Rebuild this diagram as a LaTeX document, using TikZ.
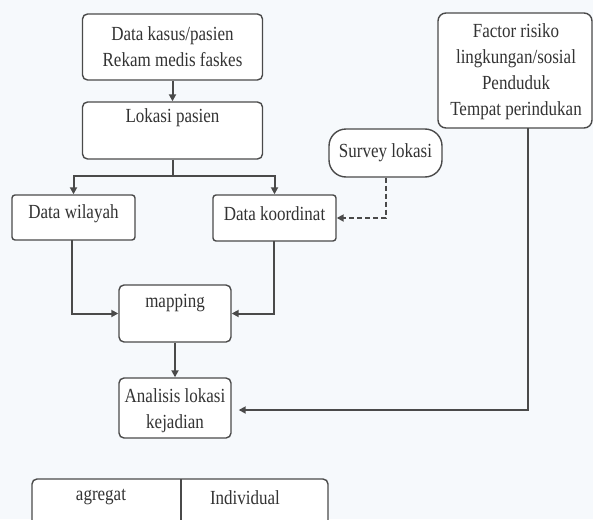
\documentclass[tikz,border=0pt]{standalone}
\usepackage{fontspec}
\setmainfont[FakeStretch=0.85]{Liberation Serif}
\usetikzlibrary{arrows.meta}
\definecolor{ln}{HTML}{4A4A4A}
\definecolor{tx}{HTML}{333333}
\definecolor{bg}{HTML}{F6F9FC}
\tikzset{
  box/.style={draw=ln, line width=1.4pt, rounded corners=5pt, fill=white, inner sep=0pt},
  lbl/.style={text=tx, align=center, inner sep=0pt, font=\fontsize{20}{26}\selectfont},
  conn/.style={draw=ln, line width=2pt, -{Triangle[length=7pt,width=7pt]}},
  dconn/.style={draw=ln, line width=2pt, dash pattern=on 5pt off 3pt, -{Triangle[length=7pt,width=7pt]}}
}
\begin{document}
\begin{tikzpicture}[x=1pt,y=-1pt]
\fill[bg] (0,0) rectangle (593,519);
\useasboundingbox (0,0) rectangle (593,519);
\clip (0,0) rectangle (593,519);
% boxes
\node[box, minimum width=180pt, minimum height=66pt] (kasus) at (172.5,47) {};
\node[lbl] (kasust) at (172.5,47) {Data kasus/pasien\\Rekam medis faskes};
\node[box, minimum width=180pt, minimum height=57pt] (lok) at (172.5,130.5) {};
\node[lbl] (lokt) at (172.5,118) {Lokasi pasien};
\node[box, rounded corners=3pt, minimum width=123pt, minimum height=45pt] (dw) at (73.5,217.5) {};
\node[lbl] (dwt) at (73.5,214) {Data wilayah};
\node[box, rounded corners=3pt, minimum width=123pt, minimum height=46pt] (dk) at (274.5,218) {};
\node[lbl] (dkt) at (274.5,214) {Data koordinat};
\node[box, rounded corners=17pt, minimum width=113pt, minimum height=48pt] (sv) at (385.5,153) {};
\node[lbl] (svt) at (385.5,153) {Survey lokasi};
\node[box, rounded corners=8pt, minimum width=154pt, minimum height=115pt] (fr) at (515,70.5) {};
\node[lbl] (frt) at (516,71.5) {Factor risiko\\lingkungan/sosial\\Penduduk\\Tempat perindukan};
\node[box, minimum width=112pt, minimum height=57pt] (map) at (175,313.5) {};
\node[lbl] (mapt) at (175,303) {mapping};
\node[box, minimum width=112pt, minimum height=60pt] (an) at (175,408) {};
\node[lbl] (ant) at (175,410.5) {Analisis lokasi\\kejadian};
% bottom table (cut off)
\draw[ln, line width=1.4pt, rounded corners=5pt, fill=white] (32,540) -- (32,479) -- (328,479) -- (328,540);
\draw[ln, line width=1.4pt] (181,479) -- (181,540);
\node[lbl] (agr) at (101,497) {agregat};
\node[lbl] (ind) at (245,498) {Individual};
% connectors
\coordinate (split) at (172.5,176);
\draw[conn] (kasus.south) -- (lok.north);
\draw[conn] (lok.south) -- (split) -| (dw.north);
\draw[conn] (split) -| (dk.north);
\draw[dconn] (sv.south) |- (dk.east);
\draw[conn] (72,240) |- (map.west);
\draw[conn] (274,241) |- (map.east);
\draw[conn] (map.south) -- (an.north);
\coordinate (frb) at (528,128);
\coordinate (frc) at (528,410);
\draw[conn, shorten >=7pt] (frb) -- (frc) -- (an.east |- frc);
\end{tikzpicture}
\end{document}
